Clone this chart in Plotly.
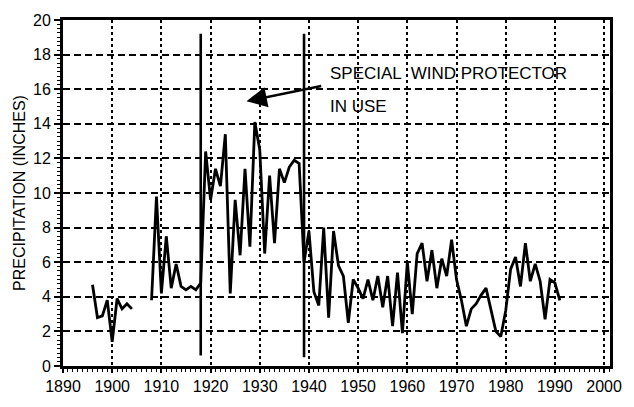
import plotly.graph_objects as go

# ---- data ----
years_early = [1896, 1897, 1898, 1899, 1900, 1901, 1902, 1903, 1904]
precip_early = [4.7, 2.8, 2.9, 3.8, 1.4, 3.9, 3.3, 3.6, 3.3]

years_main = list(range(1908, 1992))
precip_main = [
    3.8, 9.8, 4.2, 7.5, 4.5, 5.9, 4.6, 4.4, 4.6, 4.4,      # 1908-1917
    4.8, 12.4, 9.6, 11.4, 10.4, 13.4, 4.2, 9.6, 6.4, 11.4,  # 1918-1927
    6.9, 14.1, 12.5, 6.5, 11.0, 7.1, 11.4, 10.6, 11.5, 11.9,  # 1928-1937
    11.7, 6.0, 7.8, 4.3, 3.5, 8.0, 2.8, 7.8, 5.8, 5.2,     # 1938-1947
    2.5, 5.0, 4.5, 3.9, 5.0, 3.8, 5.2, 3.4, 5.2, 2.3,      # 1948-1957
    5.4, 1.9, 6.0, 3.0, 6.5, 7.1, 4.9, 6.7, 4.5, 6.2,      # 1958-1967
    5.2, 7.3, 5.0, 3.8, 2.3, 3.3, 3.6, 4.1, 4.5, 3.3,      # 1968-1977
    2.0, 1.7, 3.2, 5.6, 6.3, 4.6, 7.1, 4.9, 5.9, 4.9,      # 1978-1987
    2.7, 5.0, 4.8, 3.8,                                    # 1988-1991
]

protector_years = [1918, 1939]
protector_low = [0.6, 0.5]
protector_high = [19.2, 19.2]

x_ticks = list(range(1890, 2001, 10))
y_ticks = list(range(0, 21, 2))

note_line1 = "SPECIAL  WIND PROTECTOR"
note_line2 = "IN USE"

FONT = "Liberation Sans, Arial, sans-serif"

# ---- figure ----
fig = go.Figure()
fig.add_trace(go.Scatter(x=years_early, y=precip_early, mode="lines",
                         line=dict(color="black", width=2.8), showlegend=False))
fig.add_trace(go.Scatter(x=years_main, y=precip_main, mode="lines",
                         line=dict(color="black", width=2.8), showlegend=False))

for yr, lo, hi in zip(protector_years, protector_low, protector_high):
    fig.add_shape(type="line", xref="x", yref="y", x0=yr, x1=yr, y0=lo, y1=hi,
                  line=dict(color="black", width=2.6))

fig.add_annotation(x=1927.3, y=15.3, ax=1942.8, ay=16.2, axref="x", ayref="y",
                   xref="x", yref="y", text="", showarrow=True,
                   arrowhead=2, arrowsize=1.7, arrowwidth=2.4, arrowcolor="black")
fig.add_annotation(x=1943.8, y=16.9, xref="x", yref="y", text=note_line1,
                   showarrow=False, xanchor="left", yanchor="middle",
                   font=dict(family=FONT, size=17, color="black"))
fig.add_annotation(x=1943.8, y=15.0, xref="x", yref="y", text=note_line2,
                   showarrow=False, xanchor="left", yanchor="middle",
                   font=dict(family=FONT, size=17, color="black"))

fig.update_layout(
    width=634, height=407,
    margin=dict(l=63, r=14, t=17, b=29),
    paper_bgcolor="white", plot_bgcolor="white",
    font=dict(family=FONT, size=16, color="black"),
    xaxis=dict(range=[1890, 2001.2], tickvals=x_ticks, ticktext=[str(v) for v in x_ticks],
               showgrid=True, gridcolor="black", gridwidth=2, griddash="3px,3px",
               showline=True, linecolor="black", linewidth=2.8, mirror=True,
               ticks="outside", ticklen=4, tickwidth=2, tickcolor="black",
               minor=dict(dtick=1, ticks="outside", ticklen=3, tickwidth=1, tickcolor="black",
                          showgrid=False),
               zeroline=False, tickfont=dict(size=16)),
    yaxis=dict(range=[0, 20], tickvals=y_ticks, ticktext=[str(v) for v in y_ticks],
               showgrid=True, gridcolor="black", gridwidth=2, griddash="7px,4px",
               showline=True, linecolor="black", linewidth=2.8, mirror=True,
               ticks="outside", ticklen=6, tickwidth=2, tickcolor="black",
               minor=dict(dtick=0.25, ticks="outside", ticklen=3, tickwidth=1, tickcolor="black",
                          showgrid=False),
               zeroline=False, tickfont=dict(size=16),
               title=dict(text="PRECIPITATION (INCHES)", font=dict(size=16), standoff=4)),
)

fig.write_html("out.html")
